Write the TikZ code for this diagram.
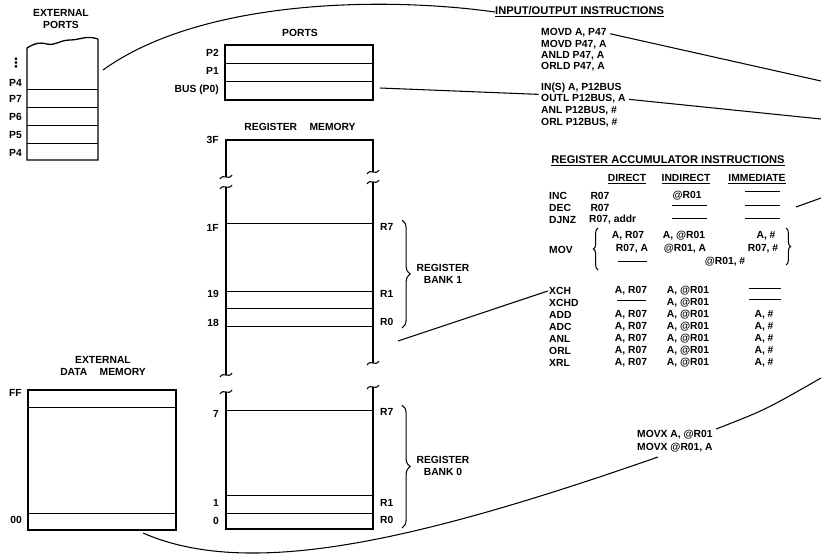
\documentclass[tikz,border=0pt]{standalone}
\usepackage{fontspec}
\setmainfont{Liberation Sans}
\newfontfamily\symfont{DejaVu Sans}
\usetikzlibrary{decorations.pathreplacing}
\tikzset{txt/.style={font=\bfseries\fontsize{8.8}{10}\selectfont,inner sep=0pt},
 head/.style={font=\bfseries\fontsize{9.5}{11}\selectfont,inner sep=0pt},
 lft/.style={txt,anchor=west},
 rgt/.style={txt,anchor=east},
 box/.style={line width=1.1pt},
 sep/.style={line width=0.6pt},
 wire/.style={line width=0.9pt},
 nil/.style={line width=0.7pt},
 bank/.style={decorate,decoration={brace,amplitude=7pt},line width=0.9pt},
 cut/.style={line width=0.9pt}}
\newcommand{\cutmark}[2]{\draw[cut] ({#1-6},{#2+2}) .. controls ({#1-2},{#2-4}) and ({#1+2},{#2+4}) .. ({#1+6},{#2-2});}

\begin{document}
\begin{tikzpicture}[x=0.03cm,y=-0.03cm]
\useasboundingbox (0,0) rectangle (821,556);

% external ports
\node[txt,align=center] (xport) at (61,19) {EXTERNAL\\PORTS};
\draw[box] (98,39) -- (98,160) -- (27,160) -- (27,48)
  .. controls (35,43) and (40,42) .. (47,44)
  .. controls (55,46) and (60,40) .. (70,40)
  .. controls (80,40) and (86,35) .. (98,39);
\foreach \y in {89,107,125,143} \draw[sep] (27,\y) -- (98,\y);
\node[txt,font=\symfont\bfseries\fontsize{11}{12}\selectfont] (xdots) at (16,63) {⋮};
\node[rgt] (xp4a) at (22,83) {P4};
\node[rgt] (xp7) at (22,99) {P7};
\node[rgt] (xp6) at (22,117) {P6};
\node[rgt] (xp5) at (22,135) {P5};
\node[rgt] (xp4b) at (22,153) {P4};
\coordinate (xpo) at (103,70);

% ports
\node[txt] (ports) at (300,33) {PORTS};
\draw[box] (225,45) rectangle (373,100);
\foreach \y in {63,81} \draw[sep] (225,\y) -- (373,\y);
\node[rgt] (pp2) at (219,53) {P2};
\node[rgt] (pp1) at (219,71) {P1};
\node[rgt] (pbus) at (219,90) {BUS (P0)};
\coordinate (busc) at (380,88);

% register memory
\node[txt] (regmem) at (300,127) {REGISTER\hspace{1.2em}MEMORY};
\draw[box] (226,177) -- (226,140) -- (373,140) -- (373,172);
\draw[box] (226,187) -- (226,375);
\draw[box] (373,182) -- (373,363);
\draw[box] (226,392) -- (226,529) -- (373,529) -- (373,387);
\cutmark{226}{177} \cutmark{226}{187}
\cutmark{373}{172} \cutmark{373}{182}
\cutmark{226}{375} \cutmark{226}{392}
\cutmark{373}{363} \cutmark{373}{387}
\foreach \y in {223,291,308,326,410,495,513} \draw[sep] (226,\y) -- (373,\y);
\node[rgt] (a3f) at (219,140) {3F};
\node[rgt] (a1f) at (219,228) {1F};
\node[rgt] (a19) at (219,294) {19};
\node[rgt] (a18) at (219,323) {18};
\node[rgt] (a7) at (219,414) {7};
\node[rgt] (a1) at (219,503) {1};
\node[rgt] (a0) at (219,521) {0};
\node[lft] (b1r7) at (380,227) {R7};
\node[lft] (b1r1) at (380,294) {R1};
\node[lft] (b1r0) at (380,322) {R0};
\node[lft] (b0r7) at (380,412) {R7};
\node[lft] (b0r1) at (380,503) {R1};
\node[lft] (b0r0) at (380,520) {R0};
\draw[bank] (402,220) -- (402,328);
\node[txt,align=center] (bank1) at (443,274) {REGISTER\\BANK 1};
\draw[bank] (402,405) -- (402,528);
\node[txt,align=center] (bank0) at (443,466) {REGISTER\\BANK 0};
\coordinate (bk1c) at (398,341);

% external data memory
\node[txt,align=center] (xdata) at (103,366) {EXTERNAL\\DATA\hspace{1.2em}MEMORY};
\draw[box] (28,390) rectangle (176,530);
\foreach \y in {407,513} \draw[sep] (28,\y) -- (176,\y);
\node[rgt] (dff) at (22,393) {FF};
\node[rgt] (d00) at (22,520) {00};
\coordinate (xdm) at (143,533);

% input/output instructions
\node[head,anchor=west] (iot) at (495,12) {\underline{INPUT/OUTPUT INSTRUCTIONS}};
\node[lft] (io1) at (541,33) {MOVD A, P47};
\node[lft] (io2) at (541,45) {MOVD P47, A};
\node[lft] (io3) at (541,56) {ANLD P47, A};
\node[lft] (io4) at (541,67) {ORLD P47, A};
\node[lft] (io5) at (541,88) {IN(S) A, P12BUS};
\node[lft] (io6) at (541,99) {OUTL P12BUS, A};
\node[lft] (io7) at (541,111) {ANL P12BUS, \#};
\node[lft] (io8) at (541,123) {ORL P12BUS, \#};
\coordinate (edgeA) at (821,81);
\coordinate (edgeB) at (821,119);

% register accumulator instructions
\node[head] (rat) at (668,161) {\underline{REGISTER ACCUMULATOR INSTRUCTIONS}};
\node[txt] (hdir) at (627,179) {\underline{DIRECT}};
\node[txt] (hind) at (686,179) {\underline{INDIRECT}};
\node[txt] (himm) at (757,179) {\underline{IMMEDIATE}};
\node[lft] (minc) at (549,196) {INC};
\node[lft] (mdec) at (549,208) {DEC};
\node[lft] (mdjnz) at (549,220) {DJNZ};
\node[lft] (mmov) at (549,250) {MOV};
\node[lft] (mxch) at (549,291) {XCH};
\node[lft] (mxchd) at (549,303) {XCHD};
\node[txt] (dinc) at (600,196) {R07};
\node[txt] (ddec) at (600,208) {R07};
\node[lft] (ddjnz) at (589,220) {R07, addr};
\node[txt] (ninc) at (687,196) {@R01};
\node[txt] (dmova) at (628,236) {A, R07};
\node[txt] (dmovb) at (632,249) {R07, A};
\node[txt] (nmova) at (684,236) {A, @R01};
\node[txt] (nmovb) at (685,249) {@R01, A};
\node[txt] (nmovc) at (725,262) {@R01, \#};
\node[txt] (imova) at (766,236) {A, \#};
\node[txt] (imovb) at (763,249) {R07, \#};
\draw[bank,decoration={amplitude=4pt}] (598,270) -- (598,228);
\draw[bank,decoration={amplitude=4pt}] (786,228) -- (786,265);
\node[txt] (dxch) at (631,291) {A, R07};
\node[txt] (nxch) at (688,291) {A, @R01};
\node[txt] (nxchd) at (688,303) {A, @R01};
\foreach \m [count=\i] in {ADD,ADC,ANL,ORL,XRL}{
  \pgfmathsetmacro{\yy}{303+12*\i}
  \node[lft] (m\m) at (549,\yy) {\m};
  \node[txt] (d\m) at (631,\yy) {A, R07};
  \node[txt] (n\m) at (688,\yy) {A, @R01};
  \node[txt] (i\m) at (764,\yy) {A, \#};
}
% blank entries
\draw[nil] (745,191) -- (780,191);
\draw[nil] (672,205) -- (707,205) (745,205) -- (780,205);
\draw[nil] (672,218) -- (707,218) (745,218) -- (780,218);
\draw[nil] (618,261) -- (647,261);
\draw[nil] (749,288) -- (781,288);
\draw[nil] (617,300) -- (646,300) (749,299) -- (781,299);
\coordinate (incA) at (796,207);
\coordinate (incB) at (821,198);

% external data moves
\node[lft] (mvx1) at (637,435) {MOVX A, @R01};
\node[lft] (mvx2) at (637,448) {MOVX @R01, A};
\coordinate (mvxl) at (658,457);
\coordinate (edgeC) at (821,378);

% connectors
\draw[wire] (xpo) .. controls (200,0) and (380,-4) .. (iot.west);
\draw[wire,shorten <=3pt] (io1.east) -- (edgeA);
\draw[wire] (busc) -- ([xshift=-2pt]io6.north west);
\draw[wire,shorten <=3pt] (io6.east) -- (edgeB);
\draw[wire] (bk1c) -- ([xshift=-1pt]mxch.west);
\draw[wire] (incA) -- (incB);
\draw[wire] (xdm) .. controls (250,580) and (420,540) .. (mvxl);
\draw[wire,shorten <=3pt] (mvx1.north east) .. controls (765,410) .. (edgeC);
\end{tikzpicture}
\end{document}
